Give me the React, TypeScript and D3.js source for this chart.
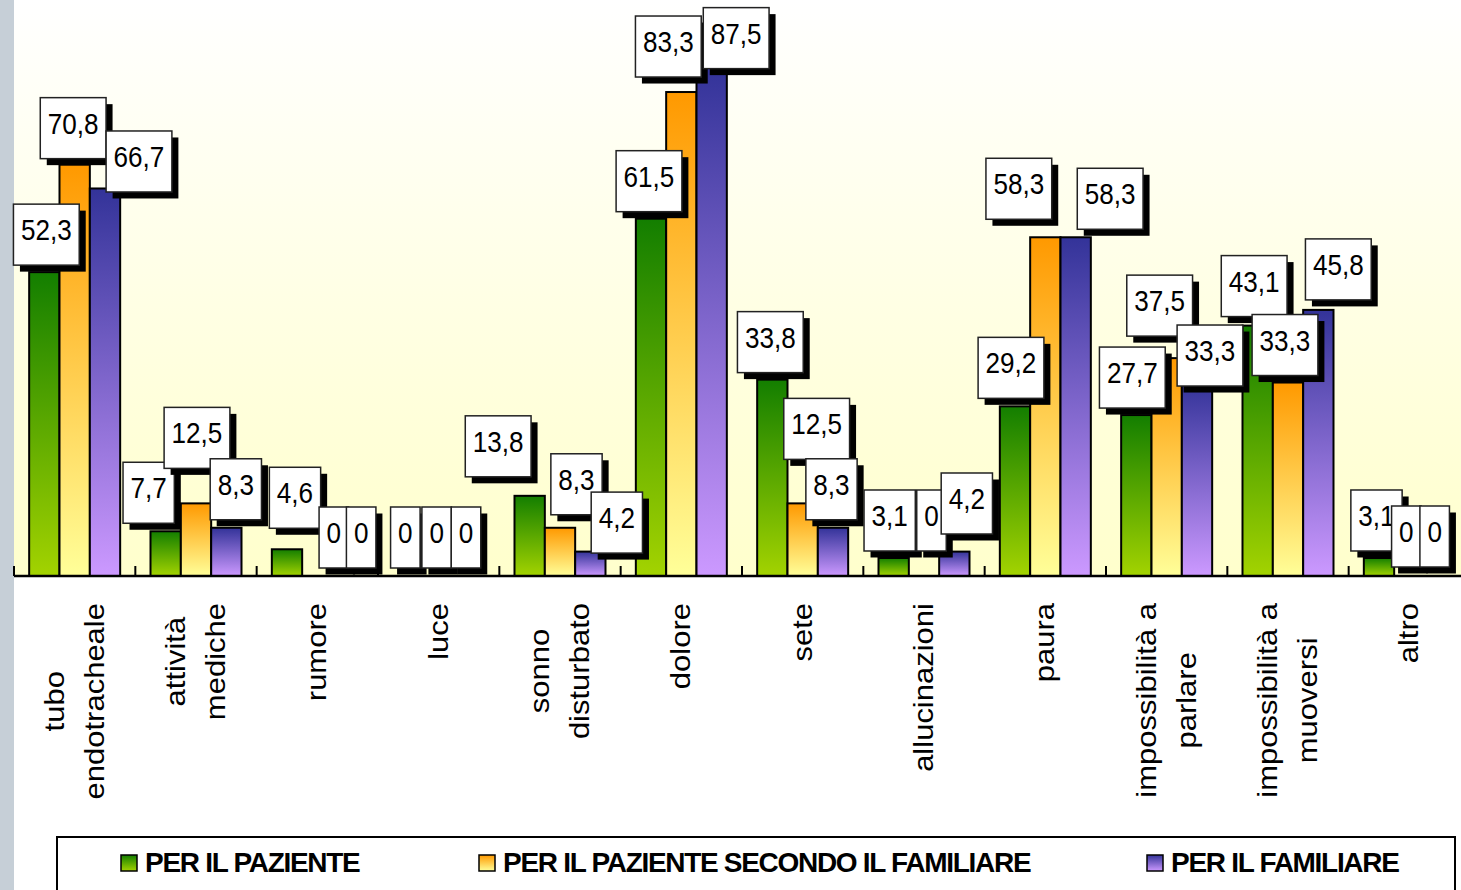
import React, { useEffect, useRef } from 'react';
import * as d3 from 'd3';

// categories (line breaks as in the original axis labels)
const categories: string[][] = [
  ['tubo', 'endotracheale'],
  ['attività', 'mediche'],
  ['rumore'],
  ['luce'],
  ['sonno', 'disturbato'],
  ['dolore'],
  ['sete'],
  ['allucinazioni'],
  ['paura'],
  ['impossibilità a', 'parlare'],
  ['impossibilità a', 'muoversi'],
  ['altro'],
];

const seriesNames = ['PER IL PAZIENTE', 'PER IL PAZIENTE SECONDO IL FAMILIARE', 'PER IL FAMILIARE'];

const perPaziente = [52.3, 7.7, 4.6, 0, 13.8, 61.5, 33.8, 3.1, 29.2, 27.7, 43.1, 3.1];
const perPazienteSecondoFamiliare = [70.8, 12.5, 0, 0, 8.3, 83.3, 12.5, 0, 58.3, 37.5, 33.3, 0];
const perFamiliare = [66.7, 8.3, 0, 0, 4.2, 87.5, 8.3, 4.2, 58.3, 33.3, 45.8, 0];

// label nudges [dx, dy] from the default spot above each bar (layout only)
const labelNudge: number[][][] = [
  [[2, 0], [-17, -1], [8, -14], [-3, -1], [-31.5, -12], [-2, 0], [-2, 0], [-4, 0], [-4, -1], [-4, 0], [-3.5, -2], [-2.5, 0]],
  [[-1.5, 1], [1, -28], [16.5, -1], [-2, -1], [16.5, -6], [-13, -8], [14, -37], [7.5, -18], [-26.5, -11], [-7, -15], [-3, 0], [-3, -2]],
  [[34, 10.5], [9.5, -1], [13.5, -1], [-3, -1], [26.5, 8.5], [24.5, 8], [-1.5, -1], [12.5, -10.6], [34.5, -1], [13, 10.5], [20, -3], [-5, -2]],
];

const seriesColors = [
  ['#137e00', '#a3d300'],
  ['#ff9900', '#ffff99'],
  ['#333399', '#cc99ff'],
];

const W = 1461;
const H = 890;
const BASE = 576;
const FONT = "'Liberation Sans', Arial, sans-serif";

const fmt = (v: number) => (v % 1 === 0 ? String(v) : v.toFixed(1).replace('.', ','));

export default function App() {
  const svgRef = useRef<SVGSVGElement | null>(null);

  useEffect(() => {
    if (!svgRef.current) return;
    const svg = d3.select(svgRef.current);
    svg.selectAll('*').remove();

    const defs = svg.append('defs');
    seriesColors.forEach((c, i) => {
      const g = defs.append('linearGradient').attr('id', `grad${i}`)
        .attr('x1', 0).attr('y1', 0).attr('x2', 0).attr('y2', 1);
      g.append('stop').attr('offset', 0).attr('stop-color', c[0]);
      g.append('stop').attr('offset', 1).attr('stop-color', c[1]);
    });
    const bg = defs.append('linearGradient').attr('id', 'bgGrad')
      .attr('x1', 0).attr('y1', 0).attr('x2', 0).attr('y2', 1);
    bg.append('stop').attr('offset', 0).attr('stop-color', '#ffffff');
    bg.append('stop').attr('offset', 1).attr('stop-color', '#ffffcc');

    svg.append('rect').attr('width', W).attr('height', H).attr('fill', '#fff');
    svg.append('rect').attr('x', 14).attr('y', 0).attr('width', W - 14).attr('height', BASE)
      .attr('fill', 'url(#bgGrad)');
    svg.append('rect').attr('x', 0).attr('y', 0).attr('width', 14).attr('height', H)
      .attr('fill', '#c6cfd7');

    const idx = d3.range(categories.length);
    const x0 = d3.scaleBand<number>().domain(idx).range([14, 1470]);
    const x1 = d3.scaleBand<number>().domain([0, 1, 2]).range([0, x0.bandwidth()]).paddingOuter(0.5);
    const y = d3.scaleLinear().domain([0, 100]).range([BASE, -5]);

    const values = [perPaziente, perPazienteSecondoFamiliare, perFamiliare];
    const flat = idx.flatMap(ci => values.map((vals, si) => ({ ci, si, v: vals[ci] })));

    // bars
    svg.append('g').selectAll('rect')
      .data(flat.filter(d => d.v > 0))
      .enter()
      .append('rect')
      .attr('x', d => (x0(d.ci) || 0) + (x1(d.si) || 0))
      .attr('y', d => y(d.v))
      .attr('width', x1.bandwidth())
      .attr('height', d => BASE - y(d.v))
      .attr('fill', d => `url(#grad${d.si})`)
      .attr('stroke', '#000')
      .attr('stroke-width', 2);

    // axis + ticks at group boundaries
    svg.append('line').attr('x1', 14).attr('x2', W).attr('y1', BASE).attr('y2', BASE)
      .attr('stroke', '#000').attr('stroke-width', 2.5);
    svg.append('g').selectAll('line')
      .data(d3.range(categories.length + 1))
      .enter()
      .append('line')
      .attr('x1', k => 14 + k * x0.step())
      .attr('x2', k => 14 + k * x0.step())
      .attr('y1', BASE - 10)
      .attr('y2', BASE)
      .attr('stroke', '#000')
      .attr('stroke-width', 2);

    // data labels
    const labels = svg.append('g');
    flat.forEach(d => {
      const [dx, dy] = labelNudge[d.si][d.ci];
      const cx = (x0(d.ci) || 0) + (x1(d.si) || 0) + x1.bandwidth() / 2 + dx;
      const bottom = y(d.v) - 7 + dy;
      const boxH = 61;
      const top = bottom - boxH;
      const g = labels.append('g');
      const shadow = g.append('rect').attr('fill', '#000');
      const box = g.append('rect').attr('fill', '#fff').attr('stroke', '#222').attr('stroke-width', 1.5);
      const t = g.append('text')
        .attr('transform', `translate(${cx},${top + 36}) scale(0.9,1)`)
        .attr('text-anchor', 'middle')
        .attr('font-family', FONT)
        .attr('font-size', 29)
        .attr('fill', '#000')
        .text(fmt(d.v));
      const tw = (t.node() as SVGTextElement).getComputedTextLength() * 0.9;
      const boxW = tw + 15;
      shadow.attr('x', cx - boxW / 2 + 6.5).attr('y', top + 6.5).attr('width', boxW).attr('height', boxH);
      box.attr('x', cx - boxW / 2).attr('y', top).attr('width', boxW).attr('height', boxH);
    });

    // category labels, rotated
    const catG = svg.append('g');
    categories.forEach((lines, ci) => {
      const cx = (x0(ci) || 0) + x0.bandwidth() / 2;
      const texts = lines.map(l => catG.append('text')
        .attr('text-anchor', 'middle')
        .attr('font-family', FONT)
        .attr('font-size', 31)
        .attr('fill', '#000')
        .text(l));
      const maxLen = d3.max(texts, t => (t.node() as SVGTextElement).getComputedTextLength()) || 0;
      const yc = 603 + maxLen / 2;
      texts.forEach((t, i) => {
        const bx = cx + 9 + (i - (lines.length - 1) / 2) * 40;
        t.attr('transform', `translate(${bx},${yc}) rotate(-90) scale(1,0.9)`);
      });
    });

    // legend
    svg.append('rect').attr('x', 57).attr('y', 837).attr('width', 1398).attr('height', 80)
      .attr('fill', '#fff').attr('stroke', '#000').attr('stroke-width', 2);
    const legendX = [121, 479, 1147];
    seriesNames.forEach((name, si) => {
      svg.append('rect').attr('x', legendX[si]).attr('y', 855).attr('width', 16).attr('height', 16)
        .attr('fill', `url(#grad${si})`).attr('stroke', '#000').attr('stroke-width', 1.5);
      svg.append('text').attr('x', legendX[si] + 24).attr('y', 872)
        .attr('font-family', FONT).attr('font-weight', 'bold').attr('font-size', 28)
        .attr('letter-spacing', -1.3)
        .attr('fill', '#000')
        .text(name);
    });
  }, []);

  return (
    <svg
      ref={svgRef}
      width={W}
      height={H}
      style={{ position: 'absolute', left: 0, top: 0, display: 'block' }}
    />
  );
}
